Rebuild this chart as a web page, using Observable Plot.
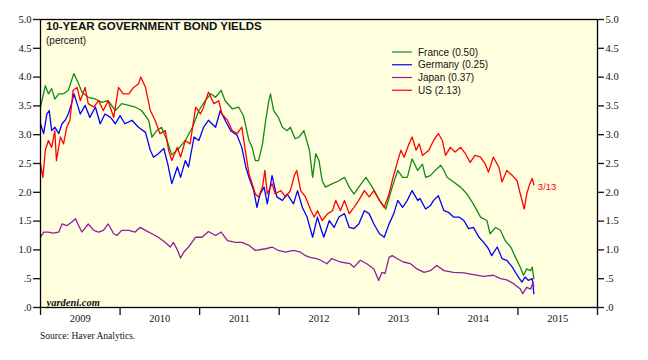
<!DOCTYPE html>
<html>
<head>
<meta charset="utf-8">
<script src="https://cdn.jsdelivr.net/npm/d3@7"></script>
<script src="https://cdn.jsdelivr.net/npm/@observablehq/plot@0.6"></script>
<style>
  html, body { margin: 0; padding: 0; background: #ffffff; }
  #wrap { position: relative; width: 648px; height: 360px; }
  #title { position: absolute; left: 46px; top: 20px; font: bold 11.5px "Liberation Sans", Arial, sans-serif; color: #111; white-space: nowrap; }
  #sub { position: absolute; left: 46px; top: 35px; font: 10px "Liberation Sans", Arial, sans-serif; color: #111; }
  #legend { position: absolute; left: 385px; top: 40px; }
  #source { position: absolute; left: 40px; top: 331px; font: 9.5px "Liberation Serif", "Times New Roman", serif; color: #111; }
</style>
</head>
<body>
<div id="wrap">
  <div id="chart"></div>
  <div id="title"></div>
  <div id="sub"></div>
  <svg id="legend" width="140" height="60"></svg>
  <div id="source"></div>
</div>
<script>
// ---- Data (decimal year, percent) ----
const france = [[2009.00,3.48],[2009.06,3.85],[2009.10,3.71],[2009.14,3.80],[2009.18,3.62],[2009.23,3.71],[2009.29,3.71],[2009.35,3.77],[2009.39,3.94],[2009.42,4.06],[2009.48,3.88],[2009.52,3.74],[2009.60,3.65],[2009.69,3.62],[2009.77,3.56],[2009.85,3.59],[2009.94,3.42],
[2010.02,3.54],[2010.11,3.51],[2010.19,3.48],[2010.27,3.42],[2010.36,3.25],[2010.40,2.96],[2010.46,3.07],[2010.52,3.13],[2010.59,2.90],[2010.65,2.65],[2010.73,2.75],[2010.82,2.90],[2010.91,3.13],[2010.99,3.42],
[2011.07,3.59],[2011.14,3.71],[2011.20,3.65],[2011.27,3.77],[2011.32,3.59],[2011.41,3.45],[2011.49,3.48],[2011.55,3.33],[2011.62,2.90],[2011.66,2.78],[2011.70,2.55],[2011.74,2.55],[2011.79,2.84],[2011.83,3.25],[2011.87,3.59],[2011.89,3.71],[2011.93,3.42],[2011.99,3.30],
[2012.04,3.13],[2012.10,3.07],[2012.14,3.13],[2012.20,2.93],[2012.25,2.96],[2012.31,3.07],[2012.38,2.73],[2012.42,2.26],[2012.46,2.67],[2012.50,2.55],[2012.54,2.20],[2012.58,2.09],[2012.67,2.15],[2012.75,2.20],[2012.82,2.26],[2012.88,2.09],[2012.94,1.97],
[2013.00,2.09],[2013.09,2.26],[2013.17,2.09],[2013.26,1.86],[2013.34,1.71],[2013.42,2.09],[2013.49,2.38],[2013.55,2.26],[2013.61,2.26],[2013.67,2.58],[2013.74,2.38],[2013.80,2.49],[2013.84,2.26],[2013.90,2.29],[2013.96,2.38],
[2014.03,2.47],[2014.07,2.38],[2014.11,2.26],[2014.19,2.18],[2014.28,2.09],[2014.36,1.97],[2014.44,1.80],[2014.53,1.57],[2014.61,1.51],[2014.65,1.28],[2014.72,1.39],[2014.78,1.34],[2014.84,1.16],[2014.91,1.05],[2014.97,0.87],
[2015.03,0.70],[2015.07,0.56],[2015.11,0.67],[2015.16,0.64],[2015.18,0.70],[2015.20,0.50]];

const germany = [[2009.00,3.19],[2009.04,3.02],[2009.08,3.36],[2009.11,3.42],[2009.14,3.07],[2009.18,3.13],[2009.23,3.02],[2009.27,3.19],[2009.31,3.25],[2009.35,3.36],[2009.39,3.54],[2009.42,3.71],[2009.46,3.54],[2009.50,3.36],[2009.56,3.51],[2009.62,3.30],[2009.69,3.48],[2009.75,3.19],[2009.81,3.36],[2009.88,3.30],[2009.94,3.19],
[2010.00,3.33],[2010.06,3.19],[2010.15,3.25],[2010.23,3.13],[2010.32,3.04],[2010.38,2.73],[2010.42,2.61],[2010.48,2.67],[2010.55,2.76],[2010.60,2.49],[2010.65,2.15],[2010.72,2.44],[2010.76,2.26],[2010.82,2.55],[2010.86,2.44],[2010.93,2.96],[2010.99,2.90],
[2011.05,3.13],[2011.11,3.25],[2011.20,3.13],[2011.26,3.42],[2011.32,3.25],[2011.39,3.07],[2011.47,2.99],[2011.53,2.78],[2011.58,2.44],[2011.62,2.26],[2011.68,2.03],[2011.72,1.74],[2011.76,1.97],[2011.81,2.09],[2011.85,1.80],[2011.91,2.29],[2011.97,1.92],
[2012.04,1.86],[2012.10,1.97],[2012.18,1.80],[2012.23,2.03],[2012.29,1.74],[2012.35,1.57],[2012.42,1.22],[2012.48,1.57],[2012.52,1.39],[2012.56,1.22],[2012.63,1.51],[2012.69,1.39],[2012.75,1.57],[2012.82,1.63],[2012.88,1.39],[2012.94,1.37],
[2013.00,1.45],[2013.07,1.68],[2013.13,1.63],[2013.19,1.45],[2013.26,1.28],[2013.32,1.22],[2013.38,1.45],[2013.44,1.63],[2013.49,1.86],[2013.55,1.74],[2013.61,1.86],[2013.67,2.03],[2013.74,1.86],[2013.77,1.89],[2013.84,1.71],[2013.90,1.77],[2013.94,1.86],
[2014.00,1.94],[2014.07,1.68],[2014.13,1.65],[2014.19,1.57],[2014.26,1.57],[2014.32,1.51],[2014.38,1.37],[2014.44,1.39],[2014.51,1.22],[2014.57,1.13],[2014.63,1.02],[2014.67,0.90],[2014.74,1.05],[2014.80,0.85],[2014.86,0.82],[2014.93,0.70],[2014.99,0.56],
[2015.05,0.44],[2015.09,0.53],[2015.13,0.47],[2015.18,0.50],[2015.20,0.24]];

const japan = [[2009.00,1.22],[2009.04,1.31],[2009.10,1.31],[2009.16,1.29],[2009.23,1.31],[2009.27,1.45],[2009.33,1.42],[2009.39,1.48],[2009.44,1.54],[2009.48,1.42],[2009.52,1.31],[2009.60,1.45],[2009.67,1.34],[2009.73,1.31],[2009.79,1.34],[2009.85,1.45],[2009.92,1.28],[2009.96,1.25],
[2010.02,1.34],[2010.11,1.34],[2010.19,1.31],[2010.25,1.39],[2010.32,1.34],[2010.40,1.28],[2010.48,1.22],[2010.57,1.13],[2010.63,1.05],[2010.67,1.13],[2010.72,1.00],[2010.76,0.86],[2010.80,0.96],[2010.86,1.05],[2010.95,1.22],
[2011.03,1.22],[2011.11,1.32],[2011.20,1.25],[2011.27,1.31],[2011.35,1.16],[2011.45,1.13],[2011.53,1.13],[2011.62,1.08],[2011.70,0.99],[2011.83,1.02],[2011.91,1.05],[2011.99,0.99],
[2012.08,0.96],[2012.18,0.99],[2012.27,0.96],[2012.33,0.90],[2012.39,0.87],[2012.47,0.85],[2012.52,0.82],[2012.60,0.76],[2012.66,0.85],[2012.77,0.79],[2012.89,0.76],[2012.94,0.70],
[2013.02,0.82],[2013.10,0.76],[2013.19,0.67],[2013.25,0.47],[2013.29,0.61],[2013.33,0.59],[2013.38,0.87],[2013.42,0.90],[2013.48,0.85],[2013.56,0.79],[2013.65,0.76],[2013.73,0.67],[2013.82,0.61],[2013.90,0.64],[2013.98,0.73],
[2014.07,0.64],[2014.19,0.61],[2014.32,0.60],[2014.44,0.57],[2014.57,0.54],[2014.69,0.56],[2014.78,0.50],[2014.86,0.48],[2014.95,0.41],
[2015.03,0.32],[2015.06,0.24],[2015.11,0.35],[2015.16,0.32],[2015.19,0.44],[2015.20,0.37]];

const us = [[2009.00,2.49],[2009.03,2.26],[2009.06,2.73],[2009.10,2.90],[2009.14,2.78],[2009.18,3.07],[2009.20,2.55],[2009.25,2.96],[2009.29,2.84],[2009.33,3.13],[2009.37,3.25],[2009.41,3.77],[2009.46,3.82],[2009.50,3.59],[2009.56,3.82],[2009.60,3.54],[2009.67,3.48],[2009.73,3.59],[2009.79,3.42],[2009.85,3.59],[2009.92,3.30],[2009.98,3.82],
[2010.04,3.71],[2010.11,3.71],[2010.17,3.82],[2010.23,3.88],[2010.26,4.00],[2010.32,3.82],[2010.38,3.42],[2010.44,3.25],[2010.50,3.02],[2010.57,3.07],[2010.61,2.73],[2010.65,2.55],[2010.72,2.78],[2010.76,2.61],[2010.82,2.90],[2010.88,2.84],[2010.95,3.48],
[2011.01,3.36],[2011.05,3.48],[2011.11,3.74],[2011.18,3.54],[2011.24,3.59],[2011.28,3.36],[2011.35,3.25],[2011.41,3.07],[2011.47,3.02],[2011.53,3.13],[2011.58,2.67],[2011.62,2.32],[2011.66,2.15],[2011.70,1.97],[2011.74,1.92],[2011.79,2.09],[2011.82,2.38],[2011.85,1.97],[2011.91,2.15],[2011.95,1.97],
[2012.02,2.03],[2012.08,1.92],[2012.14,2.03],[2012.19,2.29],[2012.22,2.38],[2012.27,2.03],[2012.33,1.92],[2012.40,1.68],[2012.44,1.57],[2012.48,1.68],[2012.54,1.51],[2012.61,1.63],[2012.67,1.68],[2012.71,1.86],[2012.77,1.68],[2012.82,1.86],[2012.88,1.63],[2012.94,1.74],
[2013.00,1.86],[2013.07,2.03],[2013.13,1.92],[2013.19,2.03],[2013.26,1.86],[2013.32,1.74],[2013.38,1.97],[2013.42,2.20],[2013.49,2.55],[2013.53,2.73],[2013.57,2.61],[2013.63,2.84],[2013.67,2.96],[2013.72,2.73],[2013.76,2.84],[2013.80,2.64],[2013.88,2.73],[2013.94,2.90],
[2014.00,3.02],[2014.05,2.90],[2014.09,2.64],[2014.15,2.78],[2014.21,2.70],[2014.28,2.78],[2014.34,2.67],[2014.40,2.52],[2014.46,2.64],[2014.53,2.61],[2014.59,2.49],[2014.63,2.35],[2014.69,2.61],[2014.76,2.44],[2014.80,2.18],[2014.86,2.38],[2014.93,2.29],[2014.99,2.20],
[2015.03,1.97],[2015.08,1.71],[2015.11,1.97],[2015.15,2.15],[2015.18,2.24],[2015.20,2.13]];

const seriesNames = ["France", "Germany", "Japan", "US"];
const seriesLatest = ["0.50", "0.25", "0.37", "2.13"];
const seriesColors = ["#138a13", "#0000ff", "#8e1f9e", "#ff0000"];
const yTicks = [0, 0.5, 1, 1.5, 2, 2.5, 3, 3.5, 4, 4.5, 5];
const yTickLabels = [".0", ".5", "1.0", "1.5", "2.0", "2.5", "3.0", "3.5", "4.0", "4.5", "5.0"];
const yearEdges = [2009, 2010, 2011, 2012, 2013, 2014, 2015, 2016];
const yearLabels = ["2009", "2010", "2011", "2012", "2013", "2014", "2015"];
const lastLabel = "3/13";

// ---- Build ----
const allSeries = [france, germany, japan, us];
const rows = allSeries.flatMap((s, i) => s.map(([t, v]) => ({t, v, name: seriesNames[i]})));
const colorOf = Object.fromEntries(seriesNames.map((n, i) => [n, seriesColors[i]]));
const yFmt = d => yTickLabels[yTicks.indexOf(d)];
const yearMids = yearLabels.map(y => +y + 0.5);
const usLast = us[us.length - 1];

const chart = Plot.plot({
  width: 648,
  height: 328,
  marginLeft: 40,
  marginRight: 51,
  marginTop: 19,
  marginBottom: 21,
  x: {domain: [2009, 2016], label: null},
  y: {domain: [0, 5], label: null},
  style: {fontFamily: "'Liberation Serif', 'Times New Roman', serif", fontSize: "10.5px", color: "#111", background: "transparent"},
  marks: [
    Plot.frame({fill: "#ffffe0", stroke: null}),
    ...seriesNames.map(n => Plot.line(rows.filter(d => d.name === n), {x: "t", y: "v", stroke: colorOf[n], strokeWidth: 1.3, strokeLinejoin: "round"})),
    Plot.text([usLast], {x: d => d[0], y: d => d[1], text: () => lastLabel, dx: 4, dy: 2, textAnchor: "start", fill: "#ff0000", fontFamily: "'Liberation Sans', Arial, sans-serif", fontSize: 9.5}),
    Plot.text(["yardeni.com"], {frameAnchor: "bottom-left", dx: 6, dy: -2, fontWeight: "bold", fontStyle: "italic", fontSize: 10.5, fill: "#111"}),
    Plot.frame({stroke: "#000", strokeWidth: 1.3}),
    Plot.axisY({anchor: "left", ticks: yTicks, tickSize: 7, tickPadding: 2, tickFormat: yFmt, label: null, strokeWidth: 1.3}),
    Plot.axisY({anchor: "right", ticks: yTicks, tickSize: 6, tickPadding: 2, tickFormat: yFmt, label: null, strokeWidth: 1.3}),
    Plot.axisX({ticks: yearEdges, tickSize: 8, tickFormat: () => "", label: null, strokeWidth: 1.3}),
    Plot.axisX({ticks: yearMids, tickSize: 0, tickPadding: 7, tickFormat: d => yearLabels[yearMids.indexOf(d)], label: null})
  ]
});
document.getElementById("chart").appendChild(chart);

document.getElementById("title").textContent = "10-YEAR GOVERNMENT BOND YIELDS";
document.getElementById("sub").textContent = "(percent)";
document.getElementById("source").textContent = "Source: Haver Analytics.";

// Legend (inline SVG, rows stacked)
const leg = d3.select("#legend");
const rowG = leg.selectAll("g").data(seriesNames).join("g")
  .attr("transform", (d, i) => `translate(0, ${11.5 + i * 12.75})`);
rowG.append("line")
  .attr("x1", 7).attr("x2", 27).attr("y1", 0.5).attr("y2", 0.5)
  .attr("stroke", (d, i) => seriesColors[i]).attr("stroke-width", 1.2);
rowG.append("text")
  .attr("x", 33).attr("y", 4)
  .attr("font-family", "'Liberation Sans', Arial, sans-serif")
  .attr("font-size", 10).attr("fill", "#111")
  .text((d, i) => `${d} (${seriesLatest[i]})`);
</script>
</body>
</html>
